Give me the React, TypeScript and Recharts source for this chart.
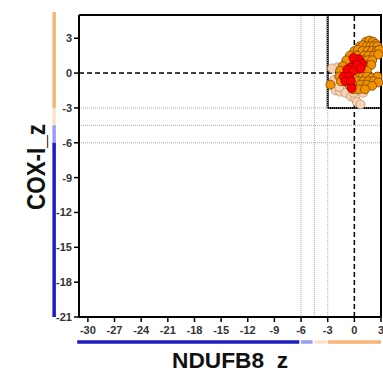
import {
  ScatterChart,
  Scatter,
  XAxis,
  YAxis,
  ReferenceLine,
  ReferenceArea,
  Label,
} from 'recharts';

// tick values
const X_TICKS = [-30, -27, -24, -21, -18, -15, -12, -9, -6, -3, 0, 3];
const Y_TICKS = [3, 0, -3, -6, -9, -12, -15, -18, -21];

// threshold lines (z-score cutoffs)
const THRESHOLDS = [-3, -4.5, -6];

// fibres, by class
const ORANGE_X = [
  1.3, 1.7, 2.1, 2.4,
  0.6, 1.0, 1.4, 1.8, 2.2, 2.6,
  0.0, 0.4, 0.9, 1.5, 2.0, 2.5, 2.8,
  -0.5, 0.3, 1.1, 1.6, 2.2, 2.7,
  -0.9, 1.0, 1.5, 2.0,
  -1.3, 0.9, 1.4, 1.9,
  -1.6, 1.0, 1.4,
  -1.7, 0.2, 0.9, 1.4, 2.0, 2.6,
  -1.5, -0.8, 0.4, 1.0, 1.6, 2.2, 2.7,
  -2.7, -0.6, 0.7, 1.4, 2.0,
  -0.1, 0.5, 1.2,
];
const ORANGE_Y = [
  2.7, 2.8, 2.7, 2.5,
  2.3, 2.4, 2.3, 2.3, 2.3, 2.3,
  1.9, 2.0, 1.9, 1.9, 1.9, 1.9, 2.0,
  1.5, 1.5, 1.5, 1.5, 1.5, 1.6,
  1.1, 1.1, 1.1, 1.1,
  0.6, 0.6, 0.6, 0.7,
  0.2, 0.2, 0.2,
  -0.3, -0.3, -0.3, -0.3, -0.4, -0.3,
  -0.7, -0.7, -0.7, -0.7, -0.7, -0.7, -0.8,
  -1.0, -1.0, -1.0, -1.0, -1.1,
  -1.4, -1.4, -1.4,
];
const RED_X = [0.5, -0.1, 0.9, 0.1, -0.4, -0.8, -0.1, -1.2, -0.6, -1.0, -0.4, -0.3, 0.3, 0.7];
const RED_Y = [1.2, 1.3, 0.8, 0.7, 0.5, 0.3, 0.2, -0.3, -0.3, -0.7, -0.7, -1.3, 0.7, 0.4];
const PEACH_X = [-1.9, -2.3, -2.1, -1.6, -1.0, -0.4, 0.1, 0.3, 0.7, -0.1, 1.0, -1.7, -2.5];
const PEACH_Y = [0.5, -0.6, -1.5, -1.6, -1.7, -2.0, -2.2, -2.5, -2.7, -1.7, -1.7, -1.2, 0.4];

const toPoints = (xs: number[], ys: number[]) => xs.map((x, i) => ({ x, y: ys[i] }));

// coloured side bars: [from, to, colour]
const Y_BAR: [number, number, string][] = [
  [5.26, -3, '#f8b377'],
  [-3, -4.5, '#fde2cb'],
  [-4.5, -6, '#9a9cf5'],
  [-6, -21, '#1c1cc0'],
];
const X_BAR: [number, number, string][] = [
  [-31.2, -6.2, '#1c1cc0'],
  [-6, -4.7, '#9a9cf5'],
  [-4.5, -3.2, '#fde2cb'],
  [-3, 3, '#f8b377'],
];
const Y_BAR_X = -33.8;
const X_BAR_Y = -23.15;

const FONT = '"Liberation Sans", Arial, sans-serif';

function dot(fill: string, stroke: string) {
  return (props: any) => (
    <circle cx={props.cx} cy={props.cy} r={4.5} fill={fill} stroke={stroke} strokeWidth={0.7} />
  );
}

export default function App() {
  const tick = { fill: '#333', fontSize: 11, fontWeight: 'bold', fontFamily: FONT };
  return (
    <div style={{ position: 'absolute', left: 0, top: 0, background: '#fff' }}>
      <ScatterChart width={383} height={370} margin={{ top: 15, right: 2, bottom: 0, left: 0 }}>
        <XAxis
          type="number"
          dataKey="x"
          domain={[-31, 3]}
          ticks={X_TICKS}
          interval={0}
          height={53}
          tick={tick}
          tickSize={5}
          tickMargin={4}
          axisLine={{ stroke: '#000', strokeWidth: 2 }}
          tickLine={{ stroke: '#000', strokeWidth: 1.5 }}
        >
          <Label
            content={() => (
              <text
                x={230}
                y={368}
                textAnchor="middle"
                fontSize={22}
                fontWeight="bold"
                fontFamily={FONT}
                fill="#111"
                textLength={116}
                lengthAdjust="spacingAndGlyphs"
              >
                NDUFB8_z
              </text>
            )}
          />
        </XAxis>
        <YAxis
          type="number"
          dataKey="y"
          domain={[-21, 5]}
          ticks={Y_TICKS}
          interval={0}
          width={79}
          tick={tick}
          tickSize={5}
          tickMargin={2}
          axisLine={{ stroke: '#000', strokeWidth: 2 }}
          tickLine={{ stroke: '#000', strokeWidth: 1.5 }}
        >
          <Label
            content={() => (
              <text
                x={45}
                y={167}
                transform="rotate(-90, 45, 167)"
                textAnchor="middle"
                fontSize={25}
                fontWeight="bold"
                fontFamily={FONT}
                fill="#111"
                textLength={86}
                lengthAdjust="spacingAndGlyphs"
              >
                COX-I_z
              </text>
            )}
          />
        </YAxis>

        {THRESHOLDS.map((t) => (
          <ReferenceLine key={'vx' + t} x={t} stroke="#aaa" strokeWidth={1} strokeDasharray="1 1" />
        ))}
        {THRESHOLDS.map((t) => (
          <ReferenceLine key={'hy' + t} y={t} stroke="#aaa" strokeWidth={1} strokeDasharray="1 1" />
        ))}
        <ReferenceLine x={0} stroke="#000" strokeWidth={1.5} strokeDasharray="5 3" />
        <ReferenceLine y={0} stroke="#000" strokeWidth={1.5} strokeDasharray="5 3" />
        <ReferenceArea x1={-3} x2={3} y1={-3} y2={5} fill="none" stroke="#000" strokeWidth={2} />
        <ReferenceLine y={5} stroke="#000" strokeWidth={2} />
        <ReferenceLine x={3} stroke="#000" strokeWidth={2} />

        {Y_BAR.map(([a, b, c]) => (
          <ReferenceLine
            key={'yb' + a}
            segment={[{ x: Y_BAR_X, y: a }, { x: Y_BAR_X, y: b }]}
            stroke={c}
            strokeWidth={3.5}
            ifOverflow="visible"
          />
        ))}
        {X_BAR.map(([a, b, c]) => (
          <ReferenceLine
            key={'xb' + a}
            segment={[{ x: a, y: X_BAR_Y }, { x: b, y: X_BAR_Y }]}
            stroke={c}
            strokeWidth={3.5}
            ifOverflow="visible"
          />
        ))}

        <Scatter data={toPoints(PEACH_X, PEACH_Y)} isAnimationActive={false} shape={dot('#f9d3b4', '#b88a68')} />
        <Scatter data={toPoints(ORANGE_X, ORANGE_Y)} isAnimationActive={false} shape={dot('#f39200', '#6a3a00')} />
        <Scatter data={toPoints(RED_X, RED_Y)} isAnimationActive={false} shape={dot('#ff0000', '#800000')} />
      </ScatterChart>
    </div>
  );
}
